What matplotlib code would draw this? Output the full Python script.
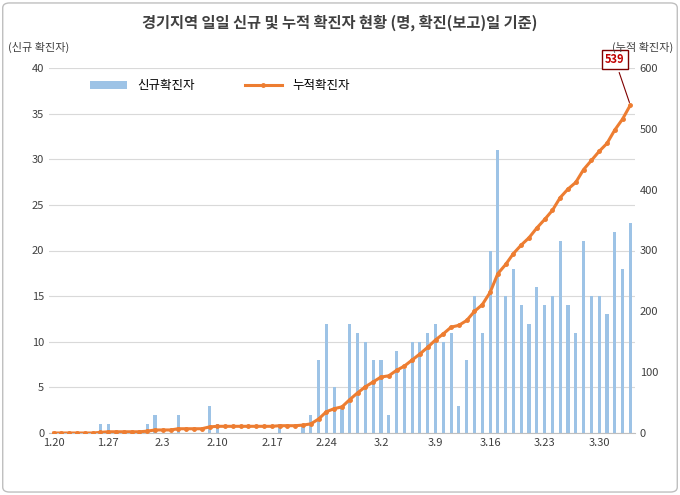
import numpy as np
import matplotlib.pyplot as plt
from matplotlib.patches import FancyBboxPatch

plt.rcParams["font.family"] = ["Noto Sans CJK KR", "Noto Sans CJK JP", "Noto Sans CJK SC", "DejaVu Sans"]

# daily new cases, 1.20 .. 4.3
daily = [0, 0, 0, 0, 0, 0, 1, 1, 0, 0, 0, 0, 1, 2, 0, 0, 2, 0, 0, 0,
         3, 1, 0, 0, 0, 0, 0, 0, 0, 1, 0, 0, 1, 2, 8,
         12, 5, 3, 12, 11, 10, 8, 8, 2, 9, 7, 10, 10, 11, 12, 10, 11, 3, 8, 15,
         11, 20, 31, 15, 18, 14, 12, 16, 14, 15, 21, 14, 11, 21, 15, 15, 13, 22, 18, 23]
cumulative = np.cumsum(daily)
tick_labels = ["1.20", "1.27", "2.3", "2.10", "2.17", "2.24", "3.2", "3.9", "3.16", "3.23", "3.30"]

x = np.arange(len(daily))

fig = plt.figure(figsize=(6.8, 4.95), dpi=100)
ax = fig.add_axes([49/680, 62/495, 586/680, 365/495])
ax2 = ax.twinx()

ax.bar(x, daily, width=0.4, color="#9dc3e6", label="신규확진자", zorder=2)
ax2.plot(x, cumulative, color="#ed7d31", lw=2.2, marker="o", ms=2.5, label="누적확진자", zorder=3)

ax.set_ylim(0, 40)
ax.set_yticks(range(0, 41, 5))
ax2.set_ylim(0, 600)
ax2.set_yticks(range(0, 601, 100))
ax.set_xlim(-0.6, len(daily) - 0.4)
ax.set_xticks(range(0, 71, 7))
ax.set_xticklabels(tick_labels)
ax.grid(axis="y", color="#d9d9d9", lw=0.8, zorder=0)
ax.set_axisbelow(True)
for a in (ax, ax2):
    for s in a.spines.values():
        s.set_visible(False)
    a.tick_params(length=0, labelsize=8, colors="#404040")
ax.spines["bottom"].set_visible(True)
ax.spines["bottom"].set_color("#bfbfbf")

fig.text(0.5, 0.955, "경기지역 일일 신규 및 누적 확진자 현황 (명, 확진(보고)일 기준)",
         ha="center", va="center", fontsize=11, fontweight="bold", color="#404040")
fig.text(0.012, 0.905, "(신규 확진자)", fontsize=8, color="#404040", va="center")
fig.text(0.99, 0.905, "(누적 확진자)", fontsize=8, color="#404040", va="center", ha="right")

h1, l1 = ax.get_legend_handles_labels()
h2, l2 = ax2.get_legend_handles_labels()
ax.legend(h1 + h2, l1 + l2, loc="upper left", bbox_to_anchor=(0.05, 1.0), ncol=2,
          frameon=False, fontsize=9, columnspacing=4, handlelength=3)

ax2.annotate(str(cumulative[-1]), xy=(x[-1], cumulative[-1]), xytext=(x[-1] - 2, cumulative[-1] + 75),
             ha="center", va="center", fontsize=8, fontweight="bold", color="#c00000",
             bbox=dict(boxstyle="square,pad=0.3", fc="white", ec="#7f0000", lw=1),
             arrowprops=dict(arrowstyle="-", color="#7f0000", lw=0.8))

fig.patches.append(FancyBboxPatch((0.004, 0.006), 0.992, 0.988, boxstyle="round,pad=0,rounding_size=0.01",
                                  transform=fig.transFigure, fc="none", ec="#bfbfbf", lw=1))

fig.savefig("out.png")
